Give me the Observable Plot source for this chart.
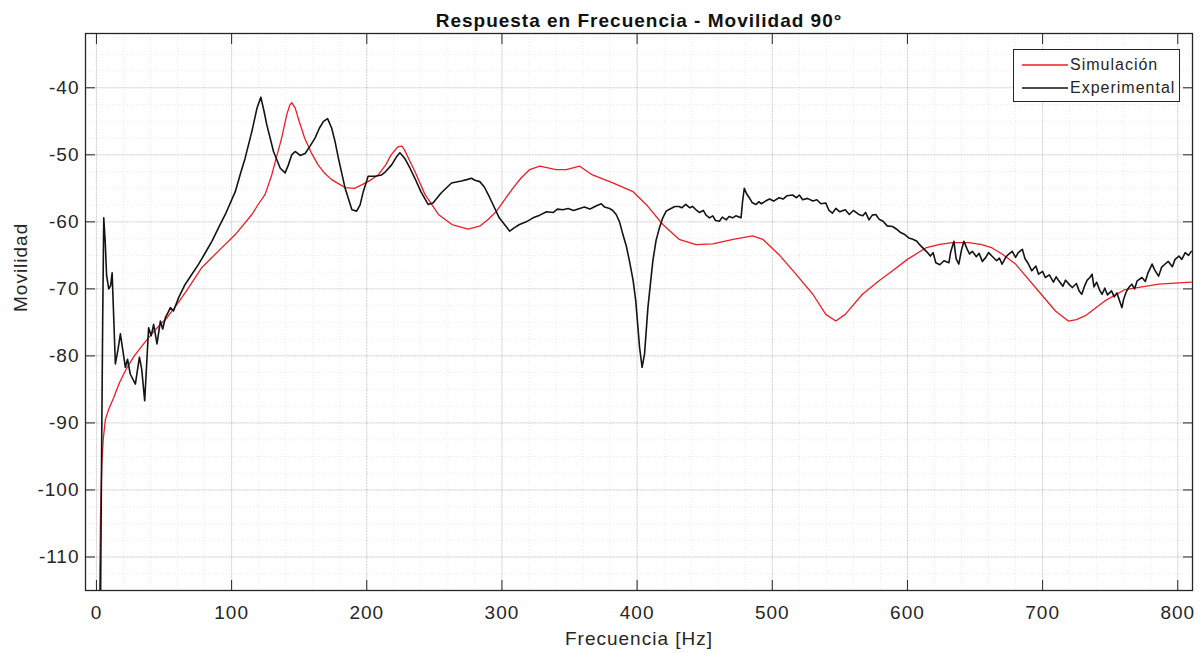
<!DOCTYPE html>
<html>
<head>
<meta charset="utf-8">
<script src="https://cdn.jsdelivr.net/npm/d3@7"></script>
<script src="https://cdn.jsdelivr.net/npm/@observablehq/plot@0.6"></script>
<style>
  html, body { margin: 0; padding: 0; background: #fff; }
  #wrap { position: relative; width: 1203px; height: 653px; }
  #legend {
    position: absolute; left: 1013px; top: 49px; width: 165px; height: 51px;
    border: 1px solid #262626; background: #fff;
    font-family: "Liberation Sans", Arial, sans-serif; font-size: 16px; letter-spacing: 1px; color: #262626;
  }
  #legend .row { position: absolute; left: 8px; height: 20px; display: flex; align-items: center; }
  #legend svg { display: block; margin-right: 2px; }
</style>
</head>
<body>
<div id="wrap"></div>
<script>
const title = "Respuesta en Frecuencia - Movilidad 90°";
const xLabel = "Frecuencia [Hz]";
const yLabel = "Movilidad";
const seriesNames = ["Simulación", "Experimental"];
const seriesColors = ["#ee1c25", "#141414"];
const xTicks = [0, 100, 200, 300, 400, 500, 600, 700, 800];
const yTicks = [-110, -100, -90, -80, -70, -60, -50, -40];

// Simulación (red)
const simF = [2, 3, 4, 5, 6.6, 9, 12.8, 17, 22.7, 28, 34.9, 43, 52.2, 60, 67, 78, 90, 102.7, 115, 120, 124.8, 129.7, 133, 137, 140.8, 143, 144.5, 147, 150, 154, 159, 164, 169, 174, 184, 191, 201, 208.5, 214, 218, 223, 226, 228, 232, 235.6, 243, 253, 263, 275, 284, 290, 296, 308, 314, 320.5, 328, 340, 347.6, 357.5, 367, 382, 397, 406.7, 419, 431, 443.6, 456, 471, 485.5, 493, 505, 517.5, 530, 539.6, 547, 554, 566.7, 579, 589, 600, 613.5, 623, 633, 645.5, 655, 662.7, 670, 680, 694.7, 709.5, 719, 725, 731.7, 746, 761, 786, 810];
const simV = [-120, -104, -96, -92.5, -89.5, -88, -86.2, -84, -81.7, -80, -78.2, -76.2, -74.3, -72.2, -70.2, -66.8, -64.4, -61.9, -58.9, -57.3, -55.9, -53, -50.5, -47.5, -44, -42.6, -42.2, -43, -45, -47.5, -49.7, -51.5, -52.8, -53.7, -54.9, -55, -54, -53, -51.5, -50, -48.8, -48.7, -49.3, -51, -52.5, -55.9, -58.9, -60.4, -61.1, -60.6, -59.6, -58.4, -55, -53.5, -52.2, -51.7, -52.2, -52.2, -51.7, -53, -54.2, -55.5, -57.4, -60.4, -62.6, -63.4, -63.3, -62.6, -62.1, -62.6, -64.9, -67.8, -70.8, -73.8, -74.8, -73.8, -70.8, -68.8, -67.3, -65.6, -63.9, -63.4, -63.1, -63.1, -63.4, -63.9, -64.8, -66.3, -69.8, -73.3, -74.8, -74.6, -74, -71.8, -70.1, -69.3, -69];

// Experimental (black)
const expF = [3, 3.8, 4.6, 5.4, 6.5, 7.5, 9.1, 10.5, 11.6, 14, 16, 17.7, 21.4, 23, 25, 28.8, 31.8, 33.5, 35.7, 38.6, 40.5, 42.3, 44.8, 47.3, 49, 51, 53, 54.7, 57, 60.8, 65.7, 70, 75.6, 80, 85.4, 90, 95.3, 102.7, 107, 110, 115, 118.7, 121.6, 124, 126, 131, 136, 139.6, 142, 144.5, 147, 150.7, 154.4, 158, 161.7, 165, 168, 171, 174, 176.5, 179, 184, 189, 192.5, 195, 197.4, 201, 206, 211, 214, 218.4, 222, 224.5, 228, 232, 235.6, 240, 245.4, 249, 255, 262.7, 270, 274, 277.5, 280, 283.6, 287, 291, 298, 305.8, 309, 313, 318, 323, 328, 333, 338, 341, 345, 349, 353, 357.5, 361, 365, 367, 370, 373.5, 376, 379.6, 382, 384.5, 387, 389.5, 392, 394.4, 397, 399, 401.8, 403.7, 405.5, 408, 411.6, 414, 416.5, 419, 421.5, 425, 428, 431, 433, 436, 439, 441, 443.6, 446, 449, 451, 453.5, 456, 458, 460.9, 463, 466, 468, 470.7, 473, 476.9, 478, 479.3, 481, 483, 485, 488, 490, 492, 495, 498, 501, 505, 508, 511, 515, 518, 520, 522.5, 526, 530, 533, 536, 539.6, 542, 544.5, 547, 550, 554, 557, 560, 564, 567, 569, 571.6, 574, 576.6, 579, 582, 585, 589, 592, 595, 598, 601, 604, 607, 609, 611, 614, 617, 619, 621, 624, 627, 630.7, 632, 634.4, 636, 638, 640, 641.8, 644, 646, 648, 651, 653, 655.4, 658, 660, 663, 666, 668, 670, 673, 675, 677.5, 680, 682, 685, 687, 689, 692, 695, 697, 700, 702, 705, 708, 710, 712, 715, 717, 720, 722, 725, 727, 729, 731, 733, 735, 736.6, 738, 740, 742, 744, 746, 748, 751, 753, 755, 757, 758.7, 760, 762, 763.7, 766, 768, 770, 773.5, 776, 778, 781, 783, 785.8, 788, 790, 793, 796, 798, 800.9, 803, 805.5, 808, 810];
const expV = [-118, -95, -75, -59.4, -63, -68, -70, -69.5, -67.6, -81.2, -79, -76.7, -81.7, -80.5, -82.7, -84.2, -80.2, -82, -86.7, -75.8, -77, -75.3, -78.2, -74.8, -76, -74.3, -73.5, -72.8, -73.3, -71.3, -69.3, -68, -66.3, -64.8, -62.9, -61, -58.9, -55.5, -52.5, -50.5, -46.5, -43.1, -41.4, -43.5, -45.5, -49.5, -52, -52.7, -51.5, -50, -49.5, -50.1, -49.8, -48.7, -47.5, -46, -45, -44.6, -46, -48, -50.5, -55, -58.2, -58.4, -57.5, -55.5, -53.2, -53.2, -53, -52.5, -51.5, -50.3, -49.7, -50.5, -52, -53.5, -55.5, -57.4, -57.2, -55.7, -54.2, -53.9, -53.7, -53.5, -53.8, -54, -54.8, -56.4, -59.4, -61.4, -60.9, -60.4, -60, -59.4, -59, -58.5, -58.6, -58.1, -58.2, -58, -58.3, -58, -57.8, -58.1, -57.9, -57.6, -57.3, -57.8, -58, -58.3, -58.9, -60, -61.9, -63.6, -65.9, -68.7, -71.8, -78.7, -81.7, -79.7, -72.8, -65.9, -62.8, -60.9, -59.4, -58.4, -58, -57.7, -57.7, -57.9, -57.4, -57.9, -57.7, -58.2, -58.6, -58.3, -59, -59.4, -59.1, -59.8, -59.9, -59.3, -59.7, -59.2, -59.4, -59.1, -59.4, -57, -55, -55.8, -56.4, -57.1, -57.4, -57, -57.3, -56.9, -56.6, -56.9, -56.4, -56.6, -56.1, -56, -56.4, -56, -56.7, -56.5, -56.9, -56.7, -57.3, -57.2, -58.3, -58.7, -58, -58.5, -58.2, -58.9, -58.3, -58.9, -59.1, -58.6, -59.7, -59, -58.9, -59.6, -59.9, -60.6, -60.7, -61.1, -61.6, -61.9, -62.4, -62.6, -62.9, -63.4, -63.8, -64.4, -65.1, -64.6, -66.1, -66.4, -65.8, -66.1, -64.5, -62.9, -65.5, -66.3, -64.2, -62.9, -64, -64.8, -64.4, -65.2, -64.7, -65.9, -65.3, -64.6, -65.2, -65.8, -65.4, -66.3, -65.2, -64.8, -64.4, -65.3, -64.6, -64.1, -65.5, -66.1, -67.3, -66.6, -67.8, -67.4, -68.3, -67.9, -69, -68.2, -68.8, -69.6, -68.7, -69.4, -69.8, -69.2, -70.3, -70.8, -69.6, -68.7, -68.3, -67.8, -69.7, -69, -70.1, -70.8, -69.9, -70.9, -70.3, -71.2, -70.6, -71.8, -72.8, -71.5, -70.4, -69.8, -69.3, -70, -68.8, -68.3, -68.9, -67.6, -66.3, -67.2, -68.1, -66.8, -66.4, -65.9, -66.7, -65.6, -65.1, -65.6, -64.6, -65, -64.4];

const sim = simF.map((f, i) => ({f, v: simV[i]}));
const exp = expF.map((f, i) => ({f, v: expV[i]}));

const xMinor = d3.range(0, 820, 20);
const yMinor = d3.range(-115, -30, 2.5);
const axisColor = "#262626";
const plainFormat = d => String(d);

const chart = Plot.plot({
  width: 1203,
  height: 653,
  marginLeft: 85,
  marginRight: 11,
  marginTop: 33,
  marginBottom: 63,
  style: {fontFamily: "'Liberation Sans', Arial, sans-serif", fontSize: "19px", letterSpacing: "1px", color: axisColor, background: "#fff"},
  x: {domain: [-8.1, 810.9]},
  y: {domain: [-115, -31.9]},
  marks: [
    Plot.gridX(xMinor, {stroke: axisColor, strokeOpacity: 0.09, strokeDasharray: "1,2"}),
    Plot.gridY(yMinor, {stroke: axisColor, strokeOpacity: 0.09, strokeDasharray: "1,2"}),
    Plot.gridX(xTicks, {stroke: axisColor, strokeOpacity: 0.13}),
    Plot.gridY(yTicks, {stroke: axisColor, strokeOpacity: 0.13}),
    Plot.line(sim, {x: "f", y: "v", stroke: seriesColors[0], strokeWidth: 1.3, clip: true}),
    Plot.line(exp, {x: "f", y: "v", stroke: seriesColors[1], strokeWidth: 1.6, clip: true}),
    // inward ticks on all four sides
    Plot.axisX(xTicks, {anchor: "bottom", tickSize: 10, dy: -10, tickFormat: () => "", label: null, stroke: axisColor}),
    Plot.axisX(xTicks, {anchor: "top", tickSize: 10, dy: 10, tickFormat: () => "", label: null, stroke: axisColor}),
    Plot.axisY(yTicks, {anchor: "left", tickSize: 10, dx: 10, tickFormat: () => "", label: null, stroke: axisColor}),
    Plot.axisY(yTicks, {anchor: "right", tickSize: 10, dx: -10, tickFormat: () => "", label: null, stroke: axisColor}),
    // tick labels
    Plot.axisX(xTicks, {anchor: "bottom", tickSize: 0, tickPadding: 15, label: null, tickFormat: plainFormat, fill: axisColor}),
    Plot.axisY(yTicks, {anchor: "left", tickSize: 0, tickPadding: 6, label: null, tickFormat: plainFormat, fill: axisColor}),
    Plot.frame({stroke: axisColor, strokeWidth: 1.3}),
    // title and axis labels
    Plot.text([title], {text: d => d, frameAnchor: "top", dy: -13, lineAnchor: "middle", fontWeight: "bold", fill: "#111"}),
    Plot.text([xLabel], {text: d => d, frameAnchor: "bottom", dy: 48, lineAnchor: "middle", fill: axisColor}),
    Plot.text([yLabel], {text: d => d, frameAnchor: "left", dx: -65, rotate: -90, lineAnchor: "middle", fill: axisColor})
  ]
});

const wrap = document.getElementById("wrap");
wrap.appendChild(chart);

// legend
const legend = document.createElement("div");
legend.id = "legend";
seriesNames.forEach((name, i) => {
  const row = document.createElement("div");
  row.className = "row";
  row.style.top = (5 + i * 23) + "px";
  row.innerHTML = `<svg width="46" height="4"><line x1="0" y1="2" x2="46" y2="2" stroke="${seriesColors[i]}" stroke-width="1.6"/></svg><span>${name}</span>`;
  legend.appendChild(row);
});
wrap.appendChild(legend);
</script>
</body>
</html>
